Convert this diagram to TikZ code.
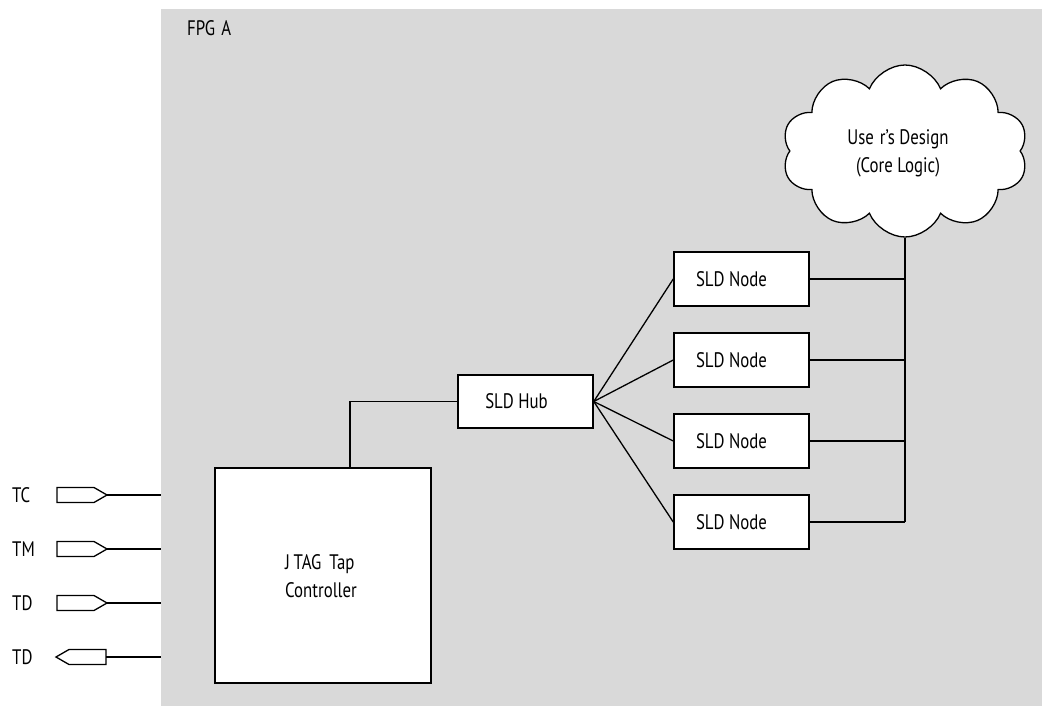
\documentclass[tikz,border=0pt]{standalone}
\usepackage{fontspec}
\setmainfont[FakeStretch=0.8]{PT Sans}
\usetikzlibrary{shapes.symbols}
\definecolor{fpgagray}{HTML}{D9D9D9}
\tikzset{
  blk/.style={draw=black, fill=white, line width=1.5pt, inner sep=0pt},
  wire/.style={draw=black, line width=1.3pt},
  pinshape/.style={draw=black, fill=white, line width=1.3pt, line join=miter},
  lbl/.style={font=\fontsize{21}{28}\selectfont, inner sep=0pt},
}
\begin{document}
\begin{tikzpicture}[x=1pt,y=-1pt]
\useasboundingbox (0,0) rectangle (1042,706);
\fill[fpgagray] (161,9) rectangle (1042,706);
\node[lbl, anchor=west] (fpga) at (187,28) {FPG\hspace{6pt}A};

% JTAG
\node[blk, minimum width=216pt, minimum height=215pt] (jtag) at (323,575.5) {};
\node[lbl, align=left] (jtagtxt) at (321,576) {J\,TAG\hspace{8pt}Tap\\Controller};

% Hub
\node[blk, minimum width=135pt, minimum height=53pt, lbl, draw, line width=1.5pt, fill=white] (hub) at (525.5,401.5) {\hspace*{-18pt}SLD Hub};

% SLD nodes
\foreach \i/\y in {1/279,2/360,3/441,4/522}{
  \node[blk, minimum width=135pt, minimum height=54pt, lbl, draw, line width=1.5pt, fill=white] (n\i) at (741.5,\y) {\hspace*{-20pt}SLD Node};
}

% cloud
\node[cloud, cloud puffs=10, cloud puff arc=135, aspect=1.45, draw=black, fill=white, line width=1.3pt,
      minimum width=246pt, minimum height=172pt, inner sep=0pt] (cloud) at (905,151) {};
\node[lbl, align=center] (cloudtxt) at (898,153) {Use\hspace{6pt}r’s Design\\(Core Logic)};

% JTAG to hub
\draw[wire] (jtag.north -| 350,0) |- (hub.west);

% hub to nodes
\foreach \i in {1,2,3,4}{
  \draw[wire] (hub.east) -- (n\i.west);
}

% bus
\coordinate (busbot) at (cloud.south |- n4.east);
\draw[wire] (cloud.south) -- (busbot);
\foreach \i in {1,2,3}{
  \draw[wire] (n\i.east) -- (n\i.east -| busbot);
}
\draw[wire] (n4.east) -- (busbot);

% pins
\foreach \nm/\t/\y in {tc/TC/495,tm/TM/549,td/TD/603}{
  \node[lbl, anchor=west] (\nm lab) at (12,\y) {\t};
  \draw[pinshape] (57,\y-7.5) -- (94,\y-7.5) -- (107,\y) -- (94,\y+7.5) -- (57,\y+7.5) -- cycle;
  \coordinate (\nm tip) at (107,\y);
  \coordinate (\nm end) at (161,\y);
  \draw[wire] (\nm tip) -- (\nm end);
}
\node[lbl, anchor=west] (tdolab) at (12,657) {TD};
\draw[pinshape] (56,657) -- (69,649.5) -- (106,649.5) -- (106,664.5) -- (69,664.5) -- cycle;
\coordinate (tdotail) at (106,657);
\coordinate (tdoend) at (161,657);
\draw[wire] (tdotail) -- (tdoend);
\end{tikzpicture}
\end{document}
